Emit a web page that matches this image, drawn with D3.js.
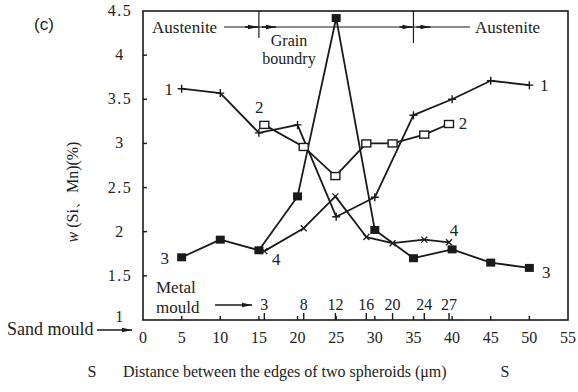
<!DOCTYPE html>
<html>
<head>
<meta charset="utf-8">
<script src="https://cdn.jsdelivr.net/npm/d3@7"></script>
<style>
  body { margin: 0; background: #fff; }
  svg { display: block; }
  text { font-family: "Liberation Serif", "DejaVu Serif", serif; fill: #222; }
</style>
</head>
<body>
<div id="graph-wrapper"></div>
<script>
// sand mould series (primary x axis)
const sandX = [5, 10, 15, 20, 25, 30, 35, 40, 45, 50];
const series1 = [3.62, 3.57, 3.12, 3.21, 2.17, 2.39, 3.32, 3.50, 3.71, 3.66];
const series3 = [1.71, 1.91, 1.79, 2.40, 4.42, 2.02, 1.70, 1.80, 1.65, 1.59];

// metal mould series (secondary scale under the axis)
const metalTicks = [3, 8, 12, 16, 20, 24, 27];
const metalPos = [15.7, 20.8, 24.9, 28.9, 32.3, 36.4, 39.6];
const series2 = [3.21, 2.96, 2.63, 3.00, 3.00, 3.10, 3.22];
const series4 = [1.78, 2.04, 2.40, 1.94, 1.87, 1.91, 1.88];

const xTicks = [0, 5, 10, 15, 20, 25, 30, 35, 40, 45, 50, 55];
const yTicks = [1, 1.5, 2, 2.5, 3, 3.5, 4, 4.5];
const boundaries = [15, 35];

const width = 578;
const height = 392;

const x = d3.scaleLinear().domain([0, 55]).range([143, 568]);
const y = d3.scaleLinear().domain([1, 4.5]).range([320, 11]);

const svg = d3.select("#graph-wrapper").append("svg")
  .attr("width", width)
  .attr("height", height);

const ink = "#1a1a1a";

// frame
svg.append("rect")
  .attr("x", x(0)).attr("y", y(4.5))
  .attr("width", x(55) - x(0)).attr("height", y(1) - y(4.5))
  .attr("fill", "none").attr("stroke", ink).attr("stroke-width", 1.6);

// bottom axis, inward ticks
svg.append("g")
  .selectAll("line")
  .data(xTicks.slice(1, -1))
  .enter().append("line")
  .attr("x1", d => x(d)).attr("x2", d => x(d))
  .attr("y1", y(1)).attr("y2", y(1) - 4)
  .attr("stroke", ink).attr("stroke-width", 1.4);

svg.append("g")
  .selectAll("text")
  .data(xTicks)
  .enter().append("text")
  .attr("x", d => x(d)).attr("y", 343)
  .attr("text-anchor", "middle")
  .style("font-size", "16px")
  .text(d => d);

// left axis, inward ticks
svg.append("g")
  .selectAll("line")
  .data(yTicks.slice(1, -1))
  .enter().append("line")
  .attr("x1", x(0)).attr("x2", x(0) + 4)
  .attr("y1", d => y(d)).attr("y2", d => y(d))
  .attr("stroke", ink).attr("stroke-width", 1.4);

svg.append("g")
  .selectAll("text")
  .data(yTicks)
  .enter().append("text")
  .attr("x", 120).attr("y", d => y(d) + (d === 1 ? 2 : 5))
  .attr("text-anchor", "middle")
  .style("font-size", "16px")
  .style("letter-spacing", "1.5px")
  .text(d => d);

// metal mould secondary ticks
svg.append("g")
  .selectAll("line")
  .data(metalPos)
  .enter().append("line")
  .attr("x1", d => x(d)).attr("x2", d => x(d))
  .attr("y1", y(1)).attr("y2", y(1) - 7)
  .attr("stroke", ink).attr("stroke-width", 1.4);

svg.append("g")
  .selectAll("text")
  .data(metalTicks)
  .enter().append("text")
  .attr("x", (d, i) => x(metalPos[i])).attr("y", 310)
  .attr("text-anchor", "middle")
  .style("font-size", "16px")
  .text(d => d);

// arrowhead marker
svg.append("defs").append("marker")
  .attr("id", "arrow")
  .attr("viewBox", "0 0 10 6")
  .attr("refX", 10).attr("refY", 3)
  .attr("markerWidth", 10).attr("markerHeight", 6)
  .attr("markerUnits", "userSpaceOnUse")
  .attr("orient", "auto")
  .append("path")
  .attr("d", "M0,0.8L10,3L0,5.2Z")
  .attr("fill", ink);

// Sand / metal mould captions
svg.append("text").attr("x", 7).attr("y", 335).style("font-size", "18px").text("Sand mould");
svg.append("line")
  .attr("x1", 97).attr("x2", 132).attr("y1", 330).attr("y2", 330)
  .attr("stroke", ink).attr("stroke-width", 1.3).attr("marker-end", "url(#arrow)");

svg.append("text").attr("x", 156).attr("y", 293).style("font-size", "17px").text("Metal");
svg.append("text").attr("x", 156).attr("y", 313).style("font-size", "17px").text("mould");
svg.append("line")
  .attr("x1", 215).attr("x2", 252).attr("y1", 305).attr("y2", 305)
  .attr("stroke", ink).attr("stroke-width", 1.3).attr("marker-end", "url(#arrow)");

// austenite / grain boundary annotation
const annY = 27;
svg.append("line")
  .attr("x1", 224).attr("x2", 470).attr("y1", annY).attr("y2", annY)
  .attr("stroke", ink).attr("stroke-width", 1);
boundaries.forEach((b, i) => {
  svg.append("line")
    .attr("x1", x(b)).attr("x2", x(b))
    .attr("y1", y(4.5)).attr("y2", i === 0 ? 38 : 43)
    .attr("stroke", ink).attr("stroke-width", 1.2);
  svg.append("line")
    .attr("x1", x(b) - 14).attr("x2", x(b) - 1).attr("y1", annY).attr("y2", annY)
    .attr("stroke", ink).attr("stroke-width", 1.6).attr("marker-end", "url(#arrow)");
  svg.append("line")
    .attr("x1", x(b) + 3).attr("x2", x(b) + 17).attr("y1", annY).attr("y2", annY)
    .attr("stroke", ink).attr("stroke-width", 1.6).attr("marker-end", "url(#arrow)");
});
svg.append("text").attr("x", 152).attr("y", 33).style("font-size", "17px").text("Austenite");
svg.append("text").attr("x", 475).attr("y", 33).style("font-size", "17px").text("Austenite");
svg.append("text").attr("x", 289).attr("y", 46).attr("text-anchor", "middle").style("font-size", "16px").text("Grain");
svg.append("text").attr("x", 289).attr("y", 64).attr("text-anchor", "middle").style("font-size", "16px").text("boundry");

// lines
const line = d3.line().x(d => x(d[0])).y(d => y(d[1]));
const s1 = sandX.map((d, i) => [d, series1[i]]);
const s3 = sandX.map((d, i) => [d, series3[i]]);
const s2 = metalPos.map((d, i) => [d, series2[i]]);
const s4 = metalPos.map((d, i) => [d, series4[i]]);

[s1, s2, s3, s4].forEach(s => {
  svg.append("path")
    .attr("d", line(s))
    .attr("fill", "none")
    .attr("stroke", ink)
    .attr("stroke-width", 1.8)
    .attr("stroke-linejoin", "round");
});

// markers: series 1 plus
svg.append("g").selectAll("path")
  .data(s1).enter().append("path")
  .attr("d", d => `M${x(d[0]) - 4},${y(d[1])}h8M${x(d[0])},${y(d[1]) - 4}v8`)
  .attr("stroke", ink).attr("stroke-width", 1.4);

// series 4 small cross
svg.append("g").selectAll("path")
  .data(s4).enter().append("path")
  .attr("d", d => `M${x(d[0]) - 3},${y(d[1]) - 3}l6,6M${x(d[0]) + 3},${y(d[1]) - 3}l-6,6`)
  .attr("stroke", ink).attr("stroke-width", 1.3);

// series 2 open squares
svg.append("g").selectAll("rect")
  .data(s2).enter().append("rect")
  .attr("x", d => x(d[0]) - 4.5).attr("y", d => y(d[1]) - 3.5)
  .attr("width", 9).attr("height", 7)
  .attr("fill", "#fff").attr("stroke", ink).attr("stroke-width", 1.4);

// series 3 filled squares
svg.append("g").selectAll("rect")
  .data(s3).enter().append("rect")
  .attr("x", d => x(d[0]) - 4.5).attr("y", d => y(d[1]) - 4)
  .attr("width", 9).attr("height", 8)
  .attr("fill", ink);

// series number labels
const seriesLabels = [
  { t: "1", px: x(sandX[0]) - 13, py: y(series1[0]) + 6 },
  { t: "1", px: x(sandX[9]) + 15, py: y(series1[9]) + 6 },
  { t: "2", px: x(metalPos[0]) - 5, py: y(series2[0]) - 12 },
  { t: "2", px: x(metalPos[6]) + 14, py: y(series2[6]) + 5 },
  { t: "3", px: x(sandX[0]) - 17, py: y(series3[0]) + 7 },
  { t: "3", px: x(sandX[9]) + 17, py: y(series3[9]) + 10 },
  { t: "4", px: x(metalPos[0]) + 12, py: y(series4[0]) + 14 },
  { t: "4", px: x(metalPos[6]) + 5, py: y(series4[6]) - 6 }
];
svg.append("g").selectAll("text")
  .data(seriesLabels).enter().append("text")
  .attr("x", d => d.px).attr("y", d => d.py)
  .attr("text-anchor", "middle")
  .style("font-size", "17px")
  .text(d => d.t);

// y axis title
const yTitle = svg.append("text")
  .attr("transform", "translate(78, 192) rotate(-90)")
  .attr("text-anchor", "middle")
  .style("font-size", "16px");
yTitle.append("tspan").style("font-style", "italic").text("w");
yTitle.append("tspan").text(" (Si、Mn)(%)");

// x axis title
svg.append("text").attr("x", 92).attr("y", 377).attr("text-anchor", "middle").style("font-size", "16px").text("S");
svg.append("text").attr("x", 123).attr("y", 377).style("font-size", "16px").text("Distance between the edges of two spheroids (μm)");
svg.append("text").attr("x", 505).attr("y", 377).attr("text-anchor", "middle").style("font-size", "16px").text("S");

// panel label
svg.append("text").attr("x", 34).attr("y", 30)
  .style("font-family", "Arial, 'Liberation Sans', sans-serif")
  .style("font-size", "17px")
  .text("(c)");
</script>
</body>
</html>
